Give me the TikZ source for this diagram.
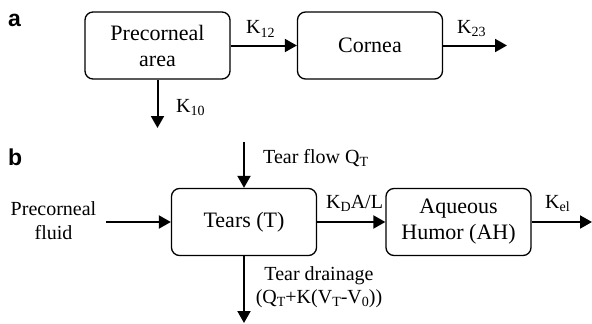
\documentclass[tikz,border=0pt]{standalone}
\usepackage{fontspec}
\setmainfont{Liberation Serif}
\newfontfamily\panelfont{Liberation Sans}
\usetikzlibrary{arrows.meta}

\newcommand*{\low}[1]{\raisebox{-0.35ex}{\fontsize{14}{14}\selectfont #1}}

\begin{document}
\begin{tikzpicture}
[
	x=1pt,y=-1pt,
	box/.style={draw,rounded corners=8pt,line width=1.3pt,minimum width=145pt,minimum height=67pt,
		align=center,inner sep=0pt,font=\fontsize{22}{26}\selectfont},
	flow/.style={line width=2pt,-{Triangle[length=12pt,width=13pt]}},
	lbl/.style={inner sep=0pt,anchor=base west,font=\fontsize{20}{23}\selectfont},
	panel/.style={inner sep=0pt,anchor=base west,font=\panelfont\bfseries\fontsize{23}{23}\selectfont}
]
	\useasboundingbox (0,0) rectangle (592,324);

	% panel a
	\node[panel] (pa) at (8,27) {a};
	\node[box] (pre) at (157.5,45.5) {Precorneal\\area};
	\node[box] (cor) at (370,45.5) {Cornea};
	\coordinate (k23out) at (507,45.5);
	\coordinate (k10out) at (157.5,128);

	\draw[flow] (pre) -- (cor);
	\draw[flow] (cor) -- (k23out);
	\draw[flow] (pre) -- (k10out);

	\node[lbl] (k12) at (246,34) {K\low{12}};
	\node[lbl] (k23) at (457,33) {K\low{23}};
	\node[lbl] (k10) at (176,112) {K\low{10}};

	% panel b
	\node[panel] (pb) at (8,165) {b};
	\node[box] (tears) at (244,222) {Tears (T)};
	\node[box] (ah) at (458.5,222) {Aqueous\\Humor (AH)};
	\node[inner sep=0pt,align=center,font=\fontsize{20}{24}\selectfont] (fluid) at (53.5,221) {Precorneal\\fluid};
	\coordinate (flowin) at (244,142);
	\coordinate (drainout) at (244,323);
	\coordinate (kelout) at (592,222);

	\draw[flow] (flowin) -- (tears);
	\draw[flow] (fluid.east |- tears.west) ++(10,0) -- (tears.west);
	\draw[flow] (tears) -- (drainout);
	\draw[flow] (tears) -- (ah);
	\draw[flow] (ah) -- (kelout);

	\node[lbl] (qt) at (263,163) {Tear flow Q\low{T}};
	\node[lbl] (kd) at (326,208) {K\low{D}A/L};
	\node[lbl] (kel) at (545,208) {K\low{el}};
	\node[inner sep=0pt,anchor=north,align=center,font=\fontsize{20}{23}\selectfont] (drain) at (319,266)
		{Tear drainage\\(Q\low{T}+K(V\low{T}-V\low{0}))};

\end{tikzpicture}
\end{document}
